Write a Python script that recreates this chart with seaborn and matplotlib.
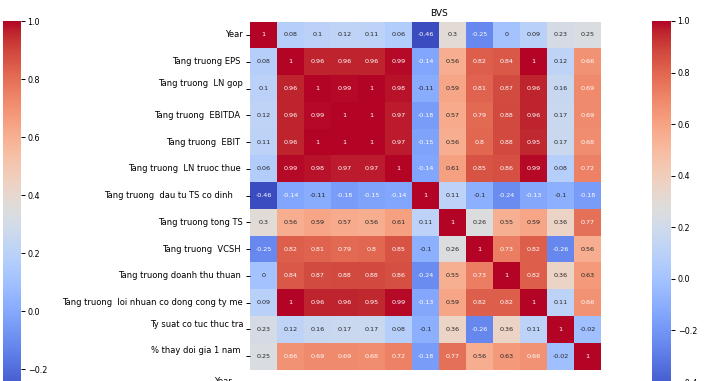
import numpy as np
import pandas as pd
import matplotlib
matplotlib.use("Agg")
import matplotlib.pyplot as plt
import seaborn as sns
from matplotlib.colors import Normalize
from matplotlib.cm import ScalarMappable

# Row / column labels of the correlation matrix (spacing kept as in the source frame)
labels = [
    "Year",
    "Tang truong EPS ",
    "Tang truong  LN gop\n",
    "Tang truong  EBITDA ",
    "Tang truong  EBIT ",
    "Tang truong  LN truoc thue ",
    "Tang truong  dau tu TS co dinh    ",
    "Tang truong tong TS",
    "Tang truong  VCSH ",
    "Tang truong doanh thu thuan ",
    "Tang truong  loi nhuan co dong cong ty me",
    "Ty suat co tuc thuc tra\n",
    "% thay doi gia 1 nam \n",
]

row_year = [1, 0.08, 0.1, 0.12, 0.11, 0.06, -0.46, 0.3, -0.25, 0, 0.09, 0.23, 0.25]
row_eps = [0.08, 1, 0.96, 0.96, 0.96, 0.99, -0.14, 0.56, 0.82, 0.84, 1, 0.12, 0.66]
row_ln_gop = [0.1, 0.96, 1, 0.99, 1, 0.98, -0.11, 0.59, 0.81, 0.87, 0.96, 0.16, 0.69]
row_ebitda = [0.12, 0.96, 0.99, 1, 1, 0.97, -0.18, 0.57, 0.79, 0.88, 0.96, 0.17, 0.69]
row_ebit = [0.11, 0.96, 1, 1, 1, 0.97, -0.15, 0.56, 0.8, 0.88, 0.95, 0.17, 0.68]
row_ln_truoc_thue = [0.06, 0.99, 0.98, 0.97, 0.97, 1, -0.14, 0.61, 0.85, 0.86, 0.99, 0.08, 0.72]
row_dau_tu_ts = [-0.46, -0.14, -0.11, -0.18, -0.15, -0.14, 1, 0.11, -0.1, -0.24, -0.13, -0.1, -0.18]
row_tong_ts = [0.3, 0.56, 0.59, 0.57, 0.56, 0.61, 0.11, 1, 0.26, 0.55, 0.59, 0.36, 0.77]
row_vcsh = [-0.25, 0.82, 0.81, 0.79, 0.8, 0.85, -0.1, 0.26, 1, 0.73, 0.82, -0.26, 0.56]
row_doanh_thu = [0, 0.84, 0.87, 0.88, 0.88, 0.86, -0.24, 0.55, 0.73, 1, 0.82, 0.36, 0.63]
row_loi_nhuan = [0.09, 1, 0.96, 0.96, 0.95, 0.99, -0.13, 0.59, 0.82, 0.82, 1, 0.11, 0.66]
row_co_tuc = [0.23, 0.12, 0.16, 0.17, 0.17, 0.08, -0.1, 0.36, -0.26, 0.36, 0.11, 1, -0.02]
row_gia_1_nam = [0.25, 0.66, 0.69, 0.69, 0.68, 0.72, -0.18, 0.77, 0.56, 0.63, 0.66, -0.02, 1]

ticker = "BVS"
# colour range of the neighbouring panel's colorbar
neighbour_range = [-0.3, 1.0]
next_panel_label = "Year"

corr = pd.DataFrame(
    [row_year, row_eps, row_ln_gop, row_ebitda, row_ebit, row_ln_truoc_thue,
     row_dau_tu_ts, row_tong_ts, row_vcsh, row_doanh_thu, row_loi_nhuan,
     row_co_tuc, row_gia_1_nam],
    index=labels, columns=labels,
)

W, H = 718, 381
fig = plt.figure(figsize=(W / 100, H / 100), dpi=100)


def box(x0, y0, x1, y1):
    """Pixel box (top-left origin) -> figure fraction rect."""
    return [x0 / W, 1 - y1 / H, (x1 - x0) / W, (y1 - y0) / H]


ax = fig.add_axes(box(250, 21.6, 601, 369.5))
cax = fig.add_axes(box(651.7, 21.0, 670.7, 397.5))
lcax = fig.add_axes(box(2.7, 21.0, 20.7, 398.0))

sns.heatmap(corr, ax=ax, cbar_ax=cax, cmap="coolwarm", annot=True,
            annot_kws={"size": 4.6}, xticklabels=False)

ax.set_title(ticker, fontsize=6.5, x=0.538, pad=4)
ax.tick_params(axis="y", labelsize=6.0, length=3, width=0.7, pad=2)

# colorbar of the panel to the left
sm = ScalarMappable(norm=Normalize(*neighbour_range), cmap="coolwarm")
lcb = fig.colorbar(sm, cax=lcax)
lcb.outline.set_visible(False)

for c in (cax, lcax):
    c.tick_params(labelsize=5.8, length=3, width=0.7, pad=2)

# first row label of the panel below
fig.text(232 / W, 1 - 377 / H, next_panel_label, ha="right", va="top", fontsize=6.0)

fig.savefig("out.png", dpi=100)
